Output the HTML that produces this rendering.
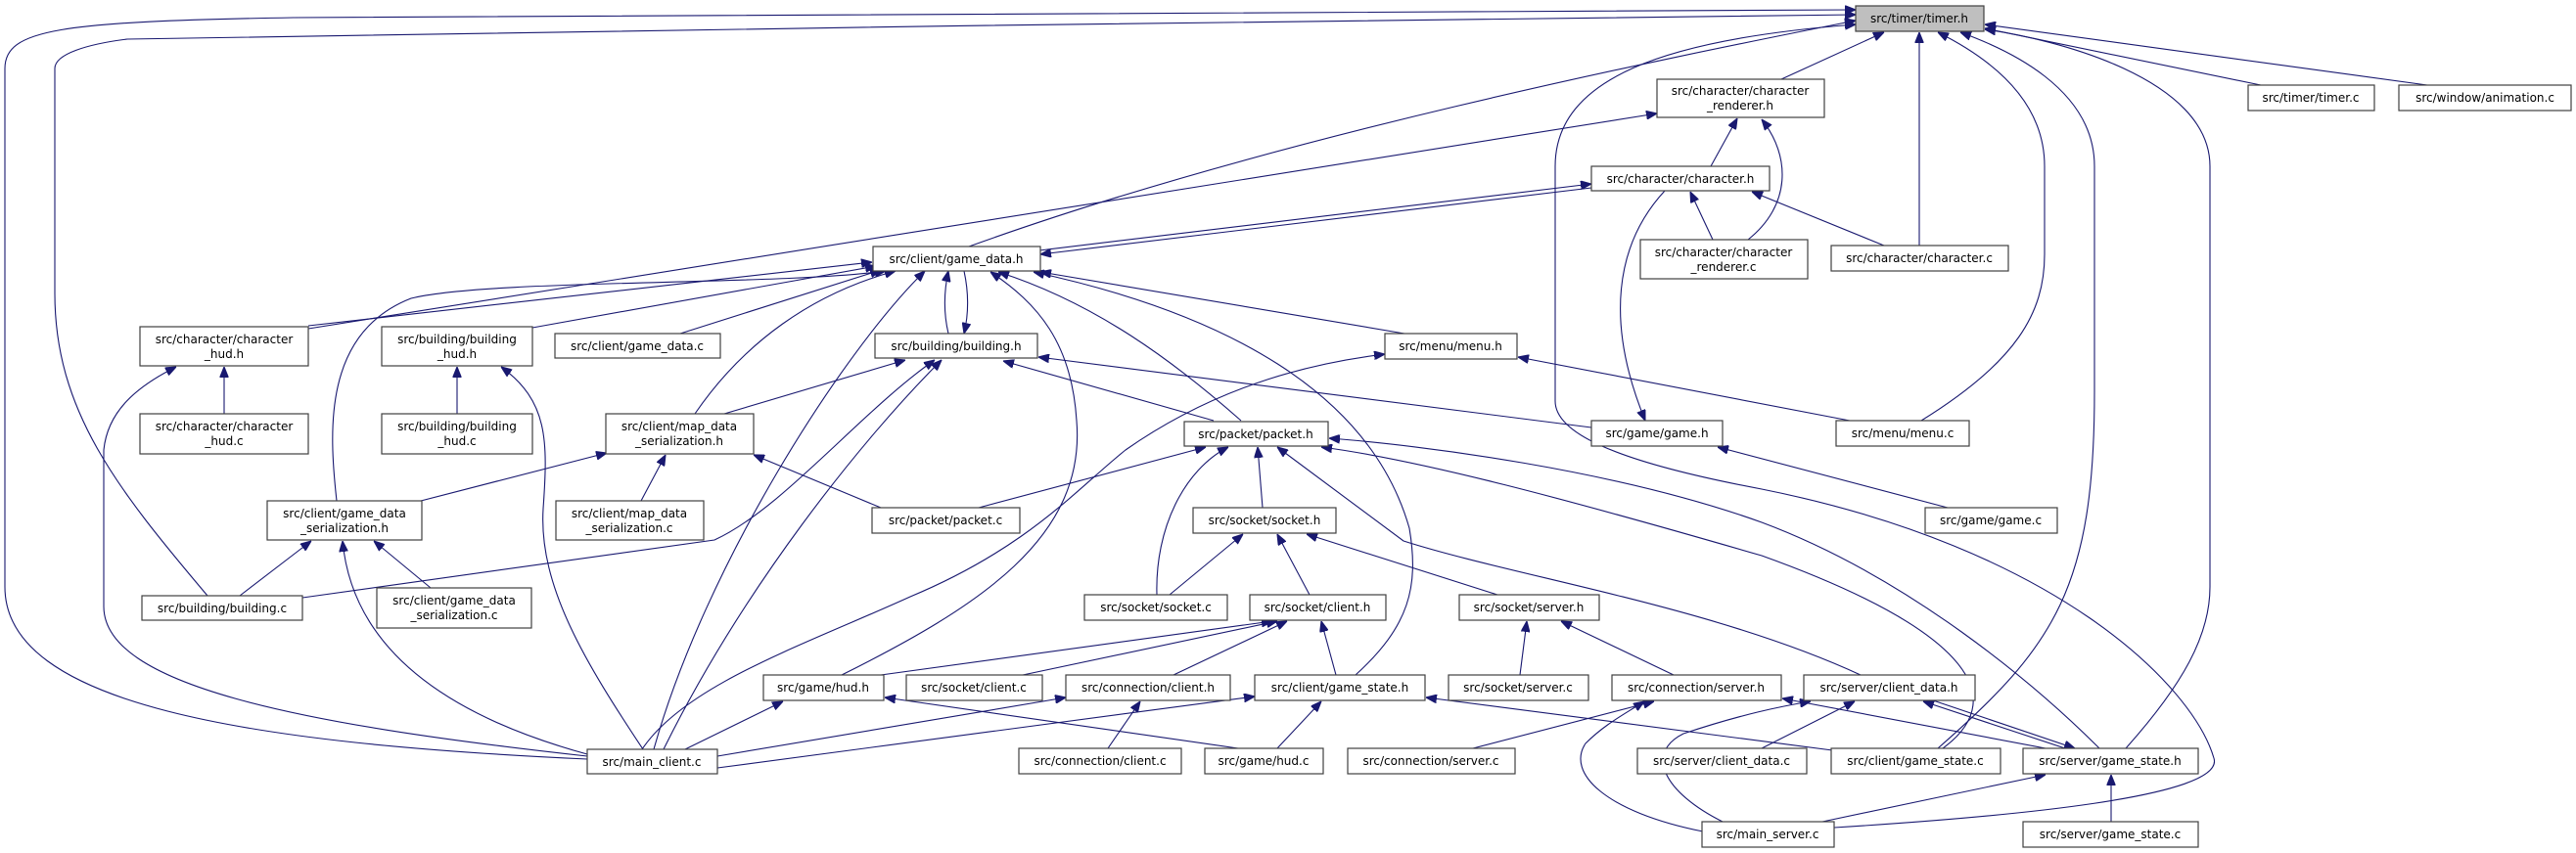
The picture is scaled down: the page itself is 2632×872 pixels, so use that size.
<!DOCTYPE html>
<html><head><meta charset="utf-8"><style>
html,body{margin:0;padding:0;background:#fff;}
svg{display:block;}
text{font-family:"DejaVu Sans","Liberation Sans",sans-serif;font-size:12px;fill:#000;text-anchor:middle;}
rect{fill:#fff;stroke:#404040;stroke-width:1.2;}
path{fill:none;stroke:#191970;stroke-width:1.1;}
</style></head><body>
<svg width="2632" height="872" viewBox="0 0 2632 872" xmlns="http://www.w3.org/2000/svg">
<defs><marker id="a" viewBox="0 0 10 8" refX="10" refY="4" markerWidth="11" markerHeight="9" markerUnits="userSpaceOnUse" orient="auto"><path d="M0,0 L10,4 L0,8 z" style="fill:#191970;stroke:#191970;stroke-width:1"/></marker></defs>
<g marker-end="url(#a)">
<!-- to timer.h -->
<path d="M990 252 C1300 140, 1700 60, 1896 21"/>
<path d="M1820 81 L1925 33"/>
<path d="M1961 251 L1961 33"/>
<path d="M2310 87 L2028 29"/>
<path d="M2480 87 L2028 25"/>
<path d="M1963 430 C2060 370, 2089 320, 2089 260 L2089 170 C2089 90, 2010 48, 1980 33"/>
<path d="M1980 765 C2100 660, 2140 600, 2140 400 L2140 170 C2140 90, 2050 50, 2003 33"/>
<path d="M2172 765 C2230 700, 2258 650, 2258 600 L2258 170 C2258 80, 2100 40, 2028 30"/>
<path d="M600 776 C250 760, 5 720, 5 600 L5 70 C5 30, 60 22, 300 18 L1896 10"/>
<path d="M212 609 C120 500, 56 420, 56 300 L56 70 C56 55, 90 45, 130 40 C500 30, 1600 20, 1896 15"/>
<path d="M1874 846 C2050 835, 2275 815, 2262 775 C2240 700, 2100 560, 1800 500 C1640 470, 1589 440, 1589 410 L1589 170 C1589 80, 1700 40, 1896 25"/>
<!-- char renderer -->
<path d="M1748 170 L1775 121"/>
<path d="M1786 245 C1830 210, 1830 160, 1800 122"/>
<path d="M315 336 L1693 116"/>
<!-- game_data.h <-> character.h -->
<path d="M1062 256 L1626 188"/>
<path d="M1626 192 L1063 260"/>
<path d="M1750 245 L1727 196"/>
<path d="M1925 251 L1790 196"/>
<path d="M1701 195 C1650 250, 1640 330, 1681 430"/>
<!-- to game_data.h -->
<path d="M315 333 L891 268"/>
<path d="M544 335 L895 272"/>
<path d="M695 341 L900 276"/>
<path d="M710 423 C760 350, 830 300, 915 277"/>
<path d="M344 512 C336 440, 330 340, 420 305 C500 285, 800 292, 905 277"/>
<path d="M969 341 C964 320, 964 300, 969 277"/>
<path d="M985 277 C990 300, 990 320, 985 341"/>
<path d="M668 766 C720 580, 860 360, 945 277"/>
<path d="M860 690 C1000 620, 1110 550, 1100 430 C1095 350, 1060 310, 1012 278"/>
<path d="M1268 430 C1200 370, 1120 310, 1020 278"/>
<path d="M1385 690 C1440 640, 1450 600, 1440 540 C1400 400, 1250 320, 1056 278"/>
<path d="M1435 341 L1063 278"/>
<!-- to building.h -->
<path d="M740 423 L925 368"/>
<path d="M309 611 L730 552 C800 520, 880 420, 955 368"/>
<path d="M678 766 C760 600, 880 450, 962 368"/>
<path d="M1240 430 L1025 369"/>
<path d="M1626 437 L1061 365"/>
<!-- hud.h -->
<path d="M700 766 L800 717"/>
<path d="M1265 765 L904 713"/>
<path d="M900 690 L1300 635"/>
<path d="M1045 690 L1305 635"/>
<!-- menu.h -->
<path d="M656 766 C700 700, 820 660, 930 610 C1050 560, 1100 500, 1150 460 C1250 390, 1350 370, 1415 362"/>
<path d="M1890 430 L1551 365"/>
<!-- packet.h -->
<path d="M1000 519 L1232 457"/>
<path d="M1182 608 C1180 540, 1210 480, 1255 457"/>
<path d="M1290 519 L1285 457"/>
<path d="M1901 690 C1750 620, 1550 590, 1434 553 L1305 457"/>
<path d="M2145 765 C2080 700, 1950 590, 1800 534 C1650 480, 1450 455, 1358 448"/>
<path d="M1985 765 C2060 710, 2000 640, 1800 568 C1600 510, 1450 470, 1350 457"/>
<!-- map ser -->
<path d="M900 519 L770 465"/>
<path d="M430 512 L620 463"/>
<path d="M655 512 L680 465"/>
<!-- gd ser -->
<path d="M245 609 L318 553"/>
<path d="M440 601 L382 553"/>
<path d="M600 771 C450 730, 360 660, 350 553"/>
<!-- hud headers -->
<path d="M229 423 L229 375"/>
<path d="M600 773 C300 740, 106 700, 106 620 L106 460 C110 420, 140 395, 180 375"/>
<path d="M467 423 L467 375"/>
<path d="M657 766 C600 680, 550 600, 555 520 C560 450, 560 410, 512 375"/>
<!-- socket -->
<path d="M1195 608 L1270 546"/>
<path d="M1338 608 L1305 546"/>
<path d="M1530 608 L1335 546"/>
<path d="M1199 690 L1315 635"/>
<path d="M1365 690 L1350 635"/>
<path d="M1132 765 L1165 717"/>
<path d="M733 773 L1089 713"/>
<path d="M1305 765 L1350 717"/>
<path d="M733 785 L1282 712"/>
<path d="M1880 768 L1457 713"/>
<path d="M1553 690 L1560 635"/>
<path d="M1710 690 L1595 635"/>
<path d="M1505 765 L1690 717"/>
<path d="M1740 850 C1640 830, 1600 790, 1620 760 C1640 740, 1660 730, 1680 717"/>
<path d="M2090 765 L1821 714"/>
<path d="M1800 765 L1895 717"/>
<path d="M2110 765 L1965 717"/>
<path d="M1975 716 L2120 765"/>
<path d="M1760 840 C1700 810, 1680 770, 1720 750 C1780 730, 1820 722, 1850 717"/>
<path d="M2157 840 L2157 792"/>
<path d="M1862 840 L2090 792"/>
<path d="M1990 519 L1755 457"/>
</g>
<!-- nodes -->
<rect x="1896" y="6" width="131" height="26" style="fill:#bfbfbf"/><text x="1961" y="23">src/timer/timer.h</text>
<rect x="1693" y="81" width="171" height="39"/><text x="1778" y="97">src/character/character</text><text x="1778" y="112">_renderer.h</text>
<rect x="2297" y="87" width="129" height="26"/><text x="2361" y="104">src/timer/timer.c</text>
<rect x="2451" y="87" width="176" height="26"/><text x="2539" y="104">src/window/animation.c</text>
<rect x="1626" y="170" width="182" height="25"/><text x="1717" y="187">src/character/character.h</text>
<rect x="892" y="252" width="171" height="25"/><text x="977" y="269">src/client/game_data.h</text>
<rect x="1676" y="245" width="171" height="40"/><text x="1761" y="262">src/character/character</text><text x="1761" y="277">_renderer.c</text>
<rect x="1871" y="251" width="181" height="26"/><text x="1961" y="268">src/character/character.c</text>
<rect x="143" y="334" width="172" height="40"/><text x="229" y="351">src/character/character</text><text x="229" y="366">_hud.h</text>
<rect x="390" y="334" width="154" height="40"/><text x="467" y="351">src/building/building</text><text x="467" y="366">_hud.h</text>
<rect x="567" y="341" width="169" height="25"/><text x="651" y="358">src/client/game_data.c</text>
<rect x="894" y="341" width="166" height="25"/><text x="977" y="358">src/building/building.h</text>
<rect x="1415" y="341" width="135" height="26"/><text x="1482" y="358">src/menu/menu.h</text>
<rect x="143" y="423" width="172" height="41"/><text x="229" y="440">src/character/character</text><text x="229" y="455">_hud.c</text>
<rect x="390" y="423" width="154" height="41"/><text x="467" y="440">src/building/building</text><text x="467" y="455">_hud.c</text>
<rect x="619" y="423" width="151" height="41"/><text x="694" y="440">src/client/map_data</text><text x="694" y="455">_serialization.h</text>
<rect x="1210" y="431" width="147" height="25"/><text x="1283" y="448">src/packet/packet.h</text>
<rect x="1626" y="430" width="134" height="26"/><text x="1693" y="447">src/game/game.h</text>
<rect x="1876" y="430" width="136" height="26"/><text x="1944" y="447">src/menu/menu.c</text>
<rect x="273" y="512" width="158" height="40"/><text x="352" y="529">src/client/game_data</text><text x="352" y="544">_serialization.h</text>
<rect x="568" y="512" width="151" height="40"/><text x="643" y="529">src/client/map_data</text><text x="643" y="544">_serialization.c</text>
<rect x="891" y="519" width="151" height="26"/><text x="966" y="536">src/packet/packet.c</text>
<rect x="1219" y="519" width="146" height="26"/><text x="1292" y="536">src/socket/socket.h</text>
<rect x="1967" y="519" width="135" height="26"/><text x="2034" y="536">src/game/game.c</text>
<rect x="145" y="609" width="164" height="25"/><text x="227" y="626">src/building/building.c</text>
<rect x="385" y="601" width="158" height="41"/><text x="464" y="618">src/client/game_data</text><text x="464" y="633">_serialization.c</text>
<rect x="1108" y="608" width="146" height="26"/><text x="1181" y="625">src/socket/socket.c</text>
<rect x="1277" y="608" width="139" height="26"/><text x="1346" y="625">src/socket/client.h</text>
<rect x="1491" y="608" width="143" height="26"/><text x="1562" y="625">src/socket/server.h</text>
<rect x="780" y="690" width="123" height="26"/><text x="841" y="707">src/game/hud.h</text>
<rect x="926" y="690" width="139" height="26"/><text x="995" y="707">src/socket/client.c</text>
<rect x="1089" y="690" width="168" height="26"/><text x="1173" y="707">src/connection/client.h</text>
<rect x="1282" y="690" width="174" height="26"/><text x="1369" y="707">src/client/game_state.h</text>
<rect x="1480" y="690" width="143" height="26"/><text x="1551" y="707">src/socket/server.c</text>
<rect x="1647" y="690" width="173" height="26"/><text x="1733" y="707">src/connection/server.h</text>
<rect x="1843" y="690" width="175" height="26"/><text x="1930" y="707">src/server/client_data.h</text>
<rect x="600" y="766" width="133" height="25"/><text x="666" y="783">src/main_client.c</text>
<rect x="1041" y="765" width="166" height="26"/><text x="1124" y="782">src/connection/client.c</text>
<rect x="1231" y="765" width="121" height="26"/><text x="1291" y="782">src/game/hud.c</text>
<rect x="1377" y="765" width="171" height="26"/><text x="1462" y="782">src/connection/server.c</text>
<rect x="1673" y="765" width="173" height="26"/><text x="1759" y="782">src/server/client_data.c</text>
<rect x="1871" y="765" width="173" height="26"/><text x="1957" y="782">src/client/game_state.c</text>
<rect x="2067" y="765" width="179" height="26"/><text x="2156" y="782">src/server/game_state.h</text>
<rect x="1739" y="840" width="135" height="26"/><text x="1806" y="857">src/main_server.c</text>
<rect x="2067" y="840" width="179" height="26"/><text x="2156" y="857">src/server/game_state.c</text>
</svg>
</body></html>
